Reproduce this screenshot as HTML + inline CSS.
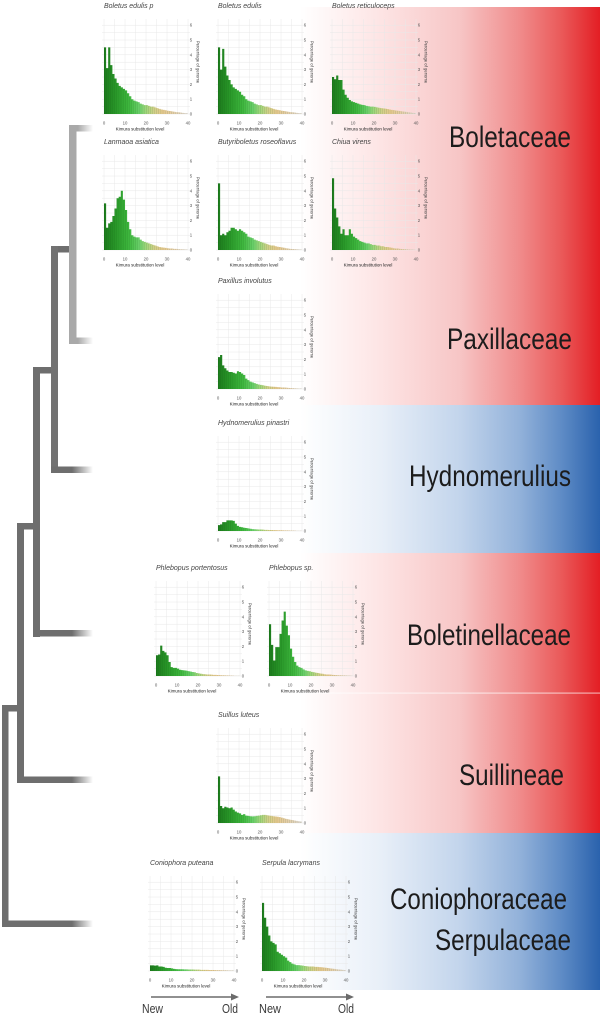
<!DOCTYPE html>
<html>
<head>
<meta charset="utf-8">
<style>
html,body{margin:0;padding:0;background:#fff;overflow:hidden;}
svg{display:block;}
.t{font-family:"Liberation Sans",sans-serif;font-style:italic;font-size:7px;fill:#444;}
.xt{font-family:"Liberation Sans",sans-serif;font-size:4.3px;fill:#555;text-anchor:middle;}
.yt{font-family:"Liberation Sans",sans-serif;font-size:4.3px;fill:#555;text-anchor:middle;}
.xl{font-family:"Liberation Sans",sans-serif;font-size:4.5px;fill:#222;text-anchor:middle;}
.yl{font-family:"Liberation Sans",sans-serif;font-size:4.2px;fill:#444;text-anchor:middle;}
.big{font-family:"Liberation Sans",sans-serif;font-size:30px;fill:#1c1c1c;}
.ar{font-family:"Liberation Sans",sans-serif;font-size:12.5px;fill:#3a3a3a;}
</style>
</head>
<body>
<svg width="600" height="1019" viewBox="0 0 600 1019" xmlns="http://www.w3.org/2000/svg">
<defs>
<linearGradient id="red" gradientUnits="userSpaceOnUse" x1="300" y1="0" x2="600" y2="0">
<stop offset="0" stop-color="#ffffff"/>
<stop offset="0.27" stop-color="#fde4e4"/>
<stop offset="0.53" stop-color="#f7c6c6"/>
<stop offset="0.73" stop-color="#f08c8c"/>
<stop offset="0.87" stop-color="#ea5a5a"/>
<stop offset="1" stop-color="#e31e24"/>
</linearGradient>
<linearGradient id="blue" gradientUnits="userSpaceOnUse" x1="300" y1="0" x2="600" y2="0">
<stop offset="0" stop-color="#ffffff"/>
<stop offset="0.27" stop-color="#e8eff8"/>
<stop offset="0.53" stop-color="#c3d5ec"/>
<stop offset="0.73" stop-color="#93b2da"/>
<stop offset="0.87" stop-color="#5f8cc6"/>
<stop offset="1" stop-color="#2a62ad"/>
</linearGradient>
<linearGradient id="tipD" gradientUnits="userSpaceOnUse" x1="72" y1="0" x2="93" y2="0">
<stop offset="0" stop-color="#6e6e6e"/>
<stop offset="1" stop-color="#6e6e6e" stop-opacity="0"/>
</linearGradient>
<linearGradient id="tipL" gradientUnits="userSpaceOnUse" x1="78" y1="0" x2="93" y2="0">
<stop offset="0" stop-color="#a9a9a9"/>
<stop offset="1" stop-color="#a9a9a9" stop-opacity="0"/>
</linearGradient>
<linearGradient id="bar" gradientUnits="userSpaceOnUse" x1="0" y1="0" x2="40" y2="0">
<stop offset="0" stop-color="#1c7a1c"/>
<stop offset="0.15" stop-color="#2a9a2a"/>
<stop offset="0.3" stop-color="#3fb83f"/>
<stop offset="0.42" stop-color="#6ad06a"/>
<stop offset="0.5" stop-color="#a0d67c"/>
<stop offset="0.6" stop-color="#d4d08a"/>
<stop offset="0.7" stop-color="#e6c88e"/>
<stop offset="0.85" stop-color="#e5cfae"/>
<stop offset="1" stop-color="#dcd6d0"/>
</linearGradient>
<pattern id="sep" patternUnits="userSpaceOnUse" width="1" height="8">
<rect x="0" y="0" width="0.16" height="8" fill="#0d4d0d" fill-opacity="0.3"/>
</pattern>
<g id="grid" fill="none" stroke="#e8e8e8" stroke-width="0.5">
<path d="M0 -95V0M10.5 -95V0M21 -95V0M31.5 -95V0M42 -95V0M52.5 -95V0M63 -95V0M73.5 -95V0M84 -95V0"/>
<path d="M-2 0H86M-2 -7.4H86M-2 -14.8H86M-2 -22.2H86M-2 -29.6H86M-2 -37H86M-2 -44.4H86M-2 -51.8H86M-2 -59.2H86M-2 -66.6H86M-2 -74H86M-2 -81.4H86M-2 -88.8H86"/>
</g>
</defs>

<!-- colored bands -->
<rect x="100" y="7" width="500" height="398" fill="url(#red)"/>
<rect x="100" y="405" width="500" height="148" fill="url(#blue)"/>
<rect x="100" y="553" width="500" height="280" fill="url(#red)"/>
<rect x="100" y="833" width="500" height="157" fill="url(#blue)"/>
<rect x="300" y="692.5" width="300" height="1.2" fill="#ffffff" fill-opacity="0.6"/>

<!-- tree -->
<rect x="69" y="125" width="7.5" height="219" fill="#a9a9a9"/>
<rect x="69" y="125" width="25" height="6.5" fill="url(#tipL)"/>
<rect x="69" y="337.5" width="25" height="6.5" fill="url(#tipL)"/>
<rect x="51" y="246" width="18" height="6.5" fill="#6e6e6e"/>
<rect x="51" y="246" width="7" height="227" fill="#727272"/>
<rect x="51" y="466.5" width="43" height="6.5" fill="url(#tipD)"/>
<rect x="33" y="367" width="18" height="6.5" fill="#6e6e6e"/>
<rect x="33" y="367" width="7" height="270" fill="#6e6e6e"/>
<rect x="33" y="630" width="61" height="6.5" fill="url(#tipD)"/>
<rect x="17" y="523" width="16" height="6.5" fill="#6e6e6e"/>
<rect x="17" y="523" width="7" height="260" fill="#6e6e6e"/>
<rect x="17" y="776.5" width="77" height="6.5" fill="url(#tipD)"/>
<rect x="2" y="705" width="15" height="6.5" fill="#6e6e6e"/>
<rect x="2" y="705" width="6.5" height="222" fill="#6e6e6e"/>
<rect x="2" y="920.5" width="92" height="6.5" fill="url(#tipD)"/>

<!-- big labels -->
<text class="big" x="449" y="147" textLength="122" lengthAdjust="spacingAndGlyphs">Boletaceae</text>
<text class="big" x="447" y="349" textLength="125" lengthAdjust="spacingAndGlyphs">Paxillaceae</text>
<text class="big" x="409" y="486" textLength="162" lengthAdjust="spacingAndGlyphs">Hydnomerulius</text>
<text class="big" x="407" y="645" textLength="164" lengthAdjust="spacingAndGlyphs">Boletinellaceae</text>
<text class="big" x="459" y="785" textLength="105" lengthAdjust="spacingAndGlyphs">Suillineae</text>
<text class="big" x="390" y="909" textLength="177" lengthAdjust="spacingAndGlyphs">Coniophoraceae</text>
<text class="big" x="435" y="950" textLength="136" lengthAdjust="spacingAndGlyphs">Serpulaceae</text>

<!-- Chart 1 -->
<g transform="translate(104,114)">
<use href="#grid"/>
<g transform="scale(2.1,-14.8)">
<path fill="url(#bar)" d="M0 0V4.5H1V3.1H2V4.5H3V3.3H4V2.7H5V2.4H6V2.1H7V1.9H8V1.8H9V1.7H10V1.6H11V1.4H12V1.2H13V1H14V.9H15V.85H16V.8H17V.7H18V.65H19V.6H20V.6H21V.55H22V.5H23V.5H24V.45H25V.4H26V.35H27V.3H28V.28H29V.25H30V.22H31V.2H32V.18H33V.15H34V.13H35V.12H36V.1H37V.08H38V.06H39V.05H40V0Z"/>
<path fill="url(#sep)" d="M0 0V4.5H1V3.1H2V4.5H3V3.3H4V2.7H5V2.4H6V2.1H7V1.9H8V1.8H9V1.7H10V1.6H11V1.4H12V1.2H13V1H14V.9H15V.85H16V.8H17V.7H18V.65H19V.6H20V.6H21V.55H22V.5H23V.5H24V.45H25V.4H26V.35H27V.3H28V.28H29V.25H30V.22H31V.2H32V.18H33V.15H34V.13H35V.12H36V.1H37V.08H38V.06H39V.05H40V0Z"/>
</g>
<text class="t" x="0" y="-106">Boletus edulis p</text>
<text class="xt" y="10.5"><tspan x="0">0</tspan><tspan x="21">10</tspan><tspan x="42">20</tspan><tspan x="63">30</tspan><tspan x="84">40</tspan></text>
<text class="yt"><tspan x="87" y="1.5">0</tspan><tspan x="87" y="-13.3">1</tspan><tspan x="87" y="-28.1">2</tspan><tspan x="87" y="-42.9">3</tspan><tspan x="87" y="-57.7">4</tspan><tspan x="87" y="-72.5">5</tspan><tspan x="87" y="-87.3">6</tspan></text>
<text class="xl" x="36" y="16.5">Kimura substitution level</text>
<text class="yl" transform="translate(92.5,-52) rotate(90)">Percentage of genome</text>
</g>

<!-- Chart 2 -->
<g transform="translate(218,114)">
<use href="#grid"/>
<g transform="scale(2.1,-14.8)">
<path fill="url(#bar)" d="M0 0V4.5H1V3H2V4.4H3V3.2H4V2.6H5V2.3H6V2H7V1.8H8V1.7H9V1.6H10V1.5H11V1.3H12V1.2H13V1H14V.9H15V.85H16V.8H17V.7H18V.65H19V.6H20V.6H21V.55H22V.5H23V.5H24V.45H25V.4H26V.35H27V.3H28V.28H29V.25H30V.22H31V.2H32V.18H33V.15H34V.13H35V.12H36V.1H37V.08H38V.06H39V.05H40V0Z"/>
<path fill="url(#sep)" d="M0 0V4.5H1V3H2V4.4H3V3.2H4V2.6H5V2.3H6V2H7V1.8H8V1.7H9V1.6H10V1.5H11V1.3H12V1.2H13V1H14V.9H15V.85H16V.8H17V.7H18V.65H19V.6H20V.6H21V.55H22V.5H23V.5H24V.45H25V.4H26V.35H27V.3H28V.28H29V.25H30V.22H31V.2H32V.18H33V.15H34V.13H35V.12H36V.1H37V.08H38V.06H39V.05H40V0Z"/>
</g>
<text class="t" x="0" y="-106">Boletus edulis</text>
<text class="xt" y="10.5"><tspan x="0">0</tspan><tspan x="21">10</tspan><tspan x="42">20</tspan><tspan x="63">30</tspan><tspan x="84">40</tspan></text>
<text class="yt"><tspan x="87" y="1.5">0</tspan><tspan x="87" y="-13.3">1</tspan><tspan x="87" y="-28.1">2</tspan><tspan x="87" y="-42.9">3</tspan><tspan x="87" y="-57.7">4</tspan><tspan x="87" y="-72.5">5</tspan><tspan x="87" y="-87.3">6</tspan></text>
<text class="xl" x="36" y="16.5">Kimura substitution level</text>
<text class="yl" transform="translate(92.5,-52) rotate(90)">Percentage of genome</text>
</g>

<!-- Chart 3 -->
<g transform="translate(332,114)">
<use href="#grid"/>
<g transform="scale(2.1,-14.8)">
<path fill="url(#bar)" d="M0 0V2.5H1V2.35H2V2.6H3V2.3H4V2.3H5V1.65H6V1.3H7V1.1H8V.95H9V.85H10V.8H11V.75H12V.7H13V.65H14V.62H15V.6H16V.55H17V.52H18V.5H19V.5H20V.48H21V.45H22V.42H23V.4H24V.38H25V.36H26V.34H27V.3H28V.28H29V.26H30V.24H31V.22H32V.2H33V.18H34V.16H35V.14H36V.12H37V.1H38V.08H39V.06H40V0Z"/>
<path fill="url(#sep)" d="M0 0V2.5H1V2.35H2V2.6H3V2.3H4V2.3H5V1.65H6V1.3H7V1.1H8V.95H9V.85H10V.8H11V.75H12V.7H13V.65H14V.62H15V.6H16V.55H17V.52H18V.5H19V.5H20V.48H21V.45H22V.42H23V.4H24V.38H25V.36H26V.34H27V.3H28V.28H29V.26H30V.24H31V.22H32V.2H33V.18H34V.16H35V.14H36V.12H37V.1H38V.08H39V.06H40V0Z"/>
</g>
<text class="t" x="0" y="-106">Boletus reticuloceps</text>
<text class="xt" y="10.5"><tspan x="0">0</tspan><tspan x="21">10</tspan><tspan x="42">20</tspan><tspan x="63">30</tspan><tspan x="84">40</tspan></text>
<text class="yt"><tspan x="87" y="1.5">0</tspan><tspan x="87" y="-13.3">1</tspan><tspan x="87" y="-28.1">2</tspan><tspan x="87" y="-42.9">3</tspan><tspan x="87" y="-57.7">4</tspan><tspan x="87" y="-72.5">5</tspan><tspan x="87" y="-87.3">6</tspan></text>
<text class="xl" x="36" y="16.5">Kimura substitution level</text>
<text class="yl" transform="translate(92.5,-52) rotate(90)">Percentage of genome</text>
</g>

<!-- Chart 4 -->
<g transform="translate(104,250)">
<use href="#grid"/>
<g transform="scale(2.1,-14.8)">
<path fill="url(#bar)" d="M0 0V3.15H1V1.5H2V1.8H3V1.9H4V2.3H5V2.8H6V3.5H7V3.6H8V4H9V3.4H10V2.7H11V1.9H12V1.4H13V1H14V.9H15V.85H16V.85H17V.7H18V.6H19V.55H20V.5H21V.45H22V.4H23V.35H24V.3H25V.25H26V.2H27V.18H28V.16H29V.14H30V.12H31V.1H32V.1H33V.08H34V.08H35V.06H36V.05H37V.05H38V.04H39V.03H40V0Z"/>
<path fill="url(#sep)" d="M0 0V3.15H1V1.5H2V1.8H3V1.9H4V2.3H5V2.8H6V3.5H7V3.6H8V4H9V3.4H10V2.7H11V1.9H12V1.4H13V1H14V.9H15V.85H16V.85H17V.7H18V.6H19V.55H20V.5H21V.45H22V.4H23V.35H24V.3H25V.25H26V.2H27V.18H28V.16H29V.14H30V.12H31V.1H32V.1H33V.08H34V.08H35V.06H36V.05H37V.05H38V.04H39V.03H40V0Z"/>
</g>
<text class="t" x="0" y="-106">Lanmaoa asiatica</text>
<text class="xt" y="10.5"><tspan x="0">0</tspan><tspan x="21">10</tspan><tspan x="42">20</tspan><tspan x="63">30</tspan><tspan x="84">40</tspan></text>
<text class="yt"><tspan x="87" y="1.5">0</tspan><tspan x="87" y="-13.3">1</tspan><tspan x="87" y="-28.1">2</tspan><tspan x="87" y="-42.9">3</tspan><tspan x="87" y="-57.7">4</tspan><tspan x="87" y="-72.5">5</tspan><tspan x="87" y="-87.3">6</tspan></text>
<text class="xl" x="36" y="16.5">Kimura substitution level</text>
<text class="yl" transform="translate(92.5,-52) rotate(90)">Percentage of genome</text>
</g>

<!-- Chart 5 -->
<g transform="translate(218,250)">
<use href="#grid"/>
<g transform="scale(2.1,-14.8)">
<path fill="url(#bar)" d="M0 0V4.5H1V1H2V1.1H3V1H4V1.2H5V1.3H6V1.5H7V1.5H8V1.4H9V1.3H10V1.4H11V1.3H12V1.2H13V1.1H14V.9H15V.85H16V.8H17V.7H18V.65H19V.6H20V.55H21V.5H22V.45H23V.4H24V.35H25V.3H26V.3H27V.25H28V.22H29V.2H30V.18H31V.15H32V.12H33V.1H34V.08H35V.07H36V.06H37V.05H38V.04H39V.03H40V0Z"/>
<path fill="url(#sep)" d="M0 0V4.5H1V1H2V1.1H3V1H4V1.2H5V1.3H6V1.5H7V1.5H8V1.4H9V1.3H10V1.4H11V1.3H12V1.2H13V1.1H14V.9H15V.85H16V.8H17V.7H18V.65H19V.6H20V.55H21V.5H22V.45H23V.4H24V.35H25V.3H26V.3H27V.25H28V.22H29V.2H30V.18H31V.15H32V.12H33V.1H34V.08H35V.07H36V.06H37V.05H38V.04H39V.03H40V0Z"/>
</g>
<text class="t" x="0" y="-106">Butyriboletus roseoflavus</text>
<text class="xt" y="10.5"><tspan x="0">0</tspan><tspan x="21">10</tspan><tspan x="42">20</tspan><tspan x="63">30</tspan><tspan x="84">40</tspan></text>
<text class="yt"><tspan x="87" y="1.5">0</tspan><tspan x="87" y="-13.3">1</tspan><tspan x="87" y="-28.1">2</tspan><tspan x="87" y="-42.9">3</tspan><tspan x="87" y="-57.7">4</tspan><tspan x="87" y="-72.5">5</tspan><tspan x="87" y="-87.3">6</tspan></text>
<text class="xl" x="36" y="16.5">Kimura substitution level</text>
<text class="yl" transform="translate(92.5,-52) rotate(90)">Percentage of genome</text>
</g>

<!-- Chart 6 -->
<g transform="translate(332,250)">
<use href="#grid"/>
<g transform="scale(2.1,-14.8)">
<path fill="url(#bar)" d="M0 0V4.85H1V2.8H2V2.2H3V1.6H4V1.1H5V1.4H6V1H7V1H8V1.4H9V1.1H10V.9H11V.8H12V.7H13V.6H14V.55H15V.5H16V.45H17V.45H18V.4H19V.35H20V.35H21V.3H22V.3H23V.25H24V.25H25V.2H26V.2H27V.18H28V.15H29V.12H30V.1H31V.1H32V.08H33V.07H34V.06H35V.05H36V.04H37V.03H38V.03H39V.02H40V0Z"/>
<path fill="url(#sep)" d="M0 0V4.85H1V2.8H2V2.2H3V1.6H4V1.1H5V1.4H6V1H7V1H8V1.4H9V1.1H10V.9H11V.8H12V.7H13V.6H14V.55H15V.5H16V.45H17V.45H18V.4H19V.35H20V.35H21V.3H22V.3H23V.25H24V.25H25V.2H26V.2H27V.18H28V.15H29V.12H30V.1H31V.1H32V.08H33V.07H34V.06H35V.05H36V.04H37V.03H38V.03H39V.02H40V0Z"/>
</g>
<text class="t" x="0" y="-106">Chiua virens</text>
<text class="xt" y="10.5"><tspan x="0">0</tspan><tspan x="21">10</tspan><tspan x="42">20</tspan><tspan x="63">30</tspan><tspan x="84">40</tspan></text>
<text class="yt"><tspan x="87" y="1.5">0</tspan><tspan x="87" y="-13.3">1</tspan><tspan x="87" y="-28.1">2</tspan><tspan x="87" y="-42.9">3</tspan><tspan x="87" y="-57.7">4</tspan><tspan x="87" y="-72.5">5</tspan><tspan x="87" y="-87.3">6</tspan></text>
<text class="xl" x="36" y="16.5">Kimura substitution level</text>
<text class="yl" transform="translate(92.5,-52) rotate(90)">Percentage of genome</text>
</g>

<!-- Chart 7 -->
<g transform="translate(218,389)">
<use href="#grid"/>
<g transform="scale(2.1,-14.8)">
<path fill="url(#bar)" d="M0 0V2.15H1V2.3H2V1.6H3V1.4H4V1.25H5V1.15H6V1.15H7V1.1H8V1.05H9V1.2H10V1.15H11V1.05H12V.95H13V.7H14V.6H15V.5H16V.45H17V.4H18V.35H19V.3H20V.28H21V.25H22V.22H23V.2H24V.18H25V.16H26V.15H27V.14H28V.13H29V.12H30V.1H31V.1H32V.09H33V.08H34V.07H35V.06H36V.05H37V.04H38V.03H39V.03H40V0Z"/>
<path fill="url(#sep)" d="M0 0V2.15H1V2.3H2V1.6H3V1.4H4V1.25H5V1.15H6V1.15H7V1.1H8V1.05H9V1.2H10V1.15H11V1.05H12V.95H13V.7H14V.6H15V.5H16V.45H17V.4H18V.35H19V.3H20V.28H21V.25H22V.22H23V.2H24V.18H25V.16H26V.15H27V.14H28V.13H29V.12H30V.1H31V.1H32V.09H33V.08H34V.07H35V.06H36V.05H37V.04H38V.03H39V.03H40V0Z"/>
</g>
<text class="t" x="0" y="-106">Paxillus involutus</text>
<text class="xt" y="10.5"><tspan x="0">0</tspan><tspan x="21">10</tspan><tspan x="42">20</tspan><tspan x="63">30</tspan><tspan x="84">40</tspan></text>
<text class="yt"><tspan x="87" y="1.5">0</tspan><tspan x="87" y="-13.3">1</tspan><tspan x="87" y="-28.1">2</tspan><tspan x="87" y="-42.9">3</tspan><tspan x="87" y="-57.7">4</tspan><tspan x="87" y="-72.5">5</tspan><tspan x="87" y="-87.3">6</tspan></text>
<text class="xl" x="36" y="16.5">Kimura substitution level</text>
<text class="yl" transform="translate(92.5,-52) rotate(90)">Percentage of genome</text>
</g>

<!-- Chart 8 -->
<g transform="translate(218,531)">
<use href="#grid"/>
<g transform="scale(2.1,-14.8)">
<path fill="url(#bar)" d="M0 0V.4H1V.45H2V.6H3V.6H4V.72H5V.72H6V.72H7V.68H8V.5H9V.35H10V.28H11V.25H12V.22H13V.2H14V.18H15V.15H16V.13H17V.12H18V.11H19V.1H20V.1H21V.09H22V.08H23V.08H24V.07H25V.07H26V.06H27V.06H28V.05H29V.05H30V.05H31V.04H32V.04H33V.04H34V.03H35V.03H36V.03H37V.02H38V.02H39V.02H40V0Z"/>
<path fill="url(#sep)" d="M0 0V.4H1V.45H2V.6H3V.6H4V.72H5V.72H6V.72H7V.68H8V.5H9V.35H10V.28H11V.25H12V.22H13V.2H14V.18H15V.15H16V.13H17V.12H18V.11H19V.1H20V.1H21V.09H22V.08H23V.08H24V.07H25V.07H26V.06H27V.06H28V.05H29V.05H30V.05H31V.04H32V.04H33V.04H34V.03H35V.03H36V.03H37V.02H38V.02H39V.02H40V0Z"/>
</g>
<text class="t" x="0" y="-106">Hydnomerulius pinastri</text>
<text class="xt" y="10.5"><tspan x="0">0</tspan><tspan x="21">10</tspan><tspan x="42">20</tspan><tspan x="63">30</tspan><tspan x="84">40</tspan></text>
<text class="yt"><tspan x="87" y="1.5">0</tspan><tspan x="87" y="-13.3">1</tspan><tspan x="87" y="-28.1">2</tspan><tspan x="87" y="-42.9">3</tspan><tspan x="87" y="-57.7">4</tspan><tspan x="87" y="-72.5">5</tspan><tspan x="87" y="-87.3">6</tspan></text>
<text class="xl" x="36" y="16.5">Kimura substitution level</text>
<text class="yl" transform="translate(92.5,-52) rotate(90)">Percentage of genome</text>
</g>

<!-- Chart 9 -->
<g transform="translate(156,676)">
<use href="#grid"/>
<g transform="scale(2.1,-14.8)">
<path fill="url(#bar)" d="M0 0V1.4H1V1.45H2V2.05H3V1.7H4V1.6H5V1.4H6V.95H7V.6H8V.55H9V.55H10V.5H11V.42H12V.4H13V.38H14V.36H15V.33H16V.3H17V.27H18V.25H19V.2H20V.18H21V.15H22V.13H23V.12H24V.1H25V.1H26V.09H27V.08H28V.08H29V.07H30V.06H31V.05H32V.05H33V.04H34V.04H35V.03H36V.03H37V.02H38V.02H39V.02H40V0Z"/>
<path fill="url(#sep)" d="M0 0V1.4H1V1.45H2V2.05H3V1.7H4V1.6H5V1.4H6V.95H7V.6H8V.55H9V.55H10V.5H11V.42H12V.4H13V.38H14V.36H15V.33H16V.3H17V.27H18V.25H19V.2H20V.18H21V.15H22V.13H23V.12H24V.1H25V.1H26V.09H27V.08H28V.08H29V.07H30V.06H31V.05H32V.05H33V.04H34V.04H35V.03H36V.03H37V.02H38V.02H39V.02H40V0Z"/>
</g>
<text class="t" x="0" y="-106">Phlebopus portentosus</text>
<text class="xt" y="10.5"><tspan x="0">0</tspan><tspan x="21">10</tspan><tspan x="42">20</tspan><tspan x="63">30</tspan><tspan x="84">40</tspan></text>
<text class="yt"><tspan x="87" y="1.5">0</tspan><tspan x="87" y="-13.3">1</tspan><tspan x="87" y="-28.1">2</tspan><tspan x="87" y="-42.9">3</tspan><tspan x="87" y="-57.7">4</tspan><tspan x="87" y="-72.5">5</tspan><tspan x="87" y="-87.3">6</tspan></text>
<text class="xl" x="36" y="16.5">Kimura substitution level</text>
<text class="yl" transform="translate(92.5,-52) rotate(90)">Percentage of genome</text>
</g>

<!-- Chart 10 -->
<g transform="translate(269,676)">
<use href="#grid"/>
<g transform="scale(2.1,-14.8)">
<path fill="url(#bar)" d="M0 0V3.5H1V2.1H2V1.05H3V1.95H4V1.95H5V2.85H6V3.75H7V4.35H8V3.4H9V2.75H10V1.85H11V1.3H12V.95H13V.7H14V.6H15V.55H16V.45H17V.38H18V.35H19V.32H20V.28H21V.25H22V.22H23V.2H24V.17H25V.15H26V.12H27V.1H28V.1H29V.09H30V.08H31V.07H32V.06H33V.05H34V.05H35V.04H36V.04H37V.03H38V.03H39V.02H40V0Z"/>
<path fill="url(#sep)" d="M0 0V3.5H1V2.1H2V1.05H3V1.95H4V1.95H5V2.85H6V3.75H7V4.35H8V3.4H9V2.75H10V1.85H11V1.3H12V.95H13V.7H14V.6H15V.55H16V.45H17V.38H18V.35H19V.32H20V.28H21V.25H22V.22H23V.2H24V.17H25V.15H26V.12H27V.1H28V.1H29V.09H30V.08H31V.07H32V.06H33V.05H34V.05H35V.04H36V.04H37V.03H38V.03H39V.02H40V0Z"/>
</g>
<text class="t" x="0" y="-106">Phlebopus sp.</text>
<text class="xt" y="10.5"><tspan x="0">0</tspan><tspan x="21">10</tspan><tspan x="42">20</tspan><tspan x="63">30</tspan><tspan x="84">40</tspan></text>
<text class="yt"><tspan x="87" y="1.5">0</tspan><tspan x="87" y="-13.3">1</tspan><tspan x="87" y="-28.1">2</tspan><tspan x="87" y="-42.9">3</tspan><tspan x="87" y="-57.7">4</tspan><tspan x="87" y="-72.5">5</tspan><tspan x="87" y="-87.3">6</tspan></text>
<text class="xl" x="36" y="16.5">Kimura substitution level</text>
<text class="yl" transform="translate(92.5,-52) rotate(90)">Percentage of genome</text>
</g>

<!-- Chart 11 -->
<g transform="translate(218,823)">
<use href="#grid"/>
<g transform="scale(2.1,-14.8)">
<path fill="url(#bar)" d="M0 0V3.15H1V1.15H2V1H3V1.1H4V1.05H5V1H6V1.05H7V.9H8V.78H9V.7H10V.65H11V.55H12V.6H13V.5H14V.48H15V.46H16V.45H17V.46H18V.48H19V.5H20V.52H21V.55H22V.55H23V.52H24V.5H25V.48H26V.46H27V.44H28V.42H29V.4H30V.36H31V.32H32V.28H33V.25H34V.22H35V.2H36V.17H37V.14H38V.12H39V.1H40V0Z"/>
<path fill="url(#sep)" d="M0 0V3.15H1V1.15H2V1H3V1.1H4V1.05H5V1H6V1.05H7V.9H8V.78H9V.7H10V.65H11V.55H12V.6H13V.5H14V.48H15V.46H16V.45H17V.46H18V.48H19V.5H20V.52H21V.55H22V.55H23V.52H24V.5H25V.48H26V.46H27V.44H28V.42H29V.4H30V.36H31V.32H32V.28H33V.25H34V.22H35V.2H36V.17H37V.14H38V.12H39V.1H40V0Z"/>
</g>
<text class="t" x="0" y="-106">Suillus luteus</text>
<text class="xt" y="10.5"><tspan x="0">0</tspan><tspan x="21">10</tspan><tspan x="42">20</tspan><tspan x="63">30</tspan><tspan x="84">40</tspan></text>
<text class="yt"><tspan x="87" y="1.5">0</tspan><tspan x="87" y="-13.3">1</tspan><tspan x="87" y="-28.1">2</tspan><tspan x="87" y="-42.9">3</tspan><tspan x="87" y="-57.7">4</tspan><tspan x="87" y="-72.5">5</tspan><tspan x="87" y="-87.3">6</tspan></text>
<text class="xl" x="36" y="16.5">Kimura substitution level</text>
<text class="yl" transform="translate(92.5,-52) rotate(90)">Percentage of genome</text>
</g>

<!-- Chart 12 -->
<g transform="translate(150,971)">
<use href="#grid"/>
<g transform="scale(2.1,-14.8)">
<path fill="url(#bar)" d="M0 0V.38H1V.38H2V.36H3V.38H4V.3H5V.3H6V.28H7V.22H8V.2H9V.2H10V.18H11V.14H12V.13H13V.12H14V.12H15V.12H16V.11H17V.11H18V.1H19V.1H20V.1H21V.09H22V.09H23V.09H24V.08H25V.08H26V.08H27V.08H28V.07H29V.07H30V.07H31V.06H32V.06H33V.06H34V.05H35V.05H36V.05H37V.04H38V.04H39V.04H40V0Z"/>
<path fill="url(#sep)" d="M0 0V.38H1V.38H2V.36H3V.38H4V.3H5V.3H6V.28H7V.22H8V.2H9V.2H10V.18H11V.14H12V.13H13V.12H14V.12H15V.12H16V.11H17V.11H18V.1H19V.1H20V.1H21V.09H22V.09H23V.09H24V.08H25V.08H26V.08H27V.08H28V.07H29V.07H30V.07H31V.06H32V.06H33V.06H34V.05H35V.05H36V.05H37V.04H38V.04H39V.04H40V0Z"/>
</g>
<text class="t" x="0" y="-106">Coniophora puteana</text>
<text class="xt" y="10.5"><tspan x="0">0</tspan><tspan x="21">10</tspan><tspan x="42">20</tspan><tspan x="63">30</tspan><tspan x="84">40</tspan></text>
<text class="yt"><tspan x="87" y="1.5">0</tspan><tspan x="87" y="-13.3">1</tspan><tspan x="87" y="-28.1">2</tspan><tspan x="87" y="-42.9">3</tspan><tspan x="87" y="-57.7">4</tspan><tspan x="87" y="-72.5">5</tspan><tspan x="87" y="-87.3">6</tspan></text>
<text class="xl" x="36" y="16.5">Kimura substitution level</text>
<text class="yl" transform="translate(92.5,-52) rotate(90)">Percentage of genome</text>
</g>

<!-- Chart 13 -->
<g transform="translate(262,971)">
<use href="#grid"/>
<g transform="scale(2.1,-14.8)">
<path fill="url(#bar)" d="M0 0V4.6H1V3.6H2V3H3V2.4H4V2H5V1.9H6V1.8H7V1.3H8V1.2H9V1.1H10V1H11V.9H12V.7H13V.6H14V.5H15V.45H16V.4H17V.4H18V.38H19V.36H20V.34H21V.32H22V.3H23V.3H24V.3H25V.28H26V.28H27V.26H28V.25H29V.24H30V.22H31V.2H32V.18H33V.16H34V.14H35V.12H36V.1H37V.09H38V.08H39V.06H40V0Z"/>
<path fill="url(#sep)" d="M0 0V4.6H1V3.6H2V3H3V2.4H4V2H5V1.9H6V1.8H7V1.3H8V1.2H9V1.1H10V1H11V.9H12V.7H13V.6H14V.5H15V.45H16V.4H17V.4H18V.38H19V.36H20V.34H21V.32H22V.3H23V.3H24V.3H25V.28H26V.28H27V.26H28V.25H29V.24H30V.22H31V.2H32V.18H33V.16H34V.14H35V.12H36V.1H37V.09H38V.08H39V.06H40V0Z"/>
</g>
<text class="t" x="0" y="-106">Serpula lacrymans</text>
<text class="xt" y="10.5"><tspan x="0">0</tspan><tspan x="21">10</tspan><tspan x="42">20</tspan><tspan x="63">30</tspan><tspan x="84">40</tspan></text>
<text class="yt"><tspan x="87" y="1.5">0</tspan><tspan x="87" y="-13.3">1</tspan><tspan x="87" y="-28.1">2</tspan><tspan x="87" y="-42.9">3</tspan><tspan x="87" y="-57.7">4</tspan><tspan x="87" y="-72.5">5</tspan><tspan x="87" y="-87.3">6</tspan></text>
<text class="xl" x="36" y="16.5">Kimura substitution level</text>
<text class="yl" transform="translate(92.5,-52) rotate(90)">Percentage of genome</text>
</g>

<!-- arrows -->
<line x1="151" y1="997" x2="232" y2="997" stroke="#6b6b6b" stroke-width="1.6"/>
<polygon points="231,993.5 239,997 231,1000.5" fill="#6b6b6b"/>
<text class="ar" x="142" y="1013" textLength="21" lengthAdjust="spacingAndGlyphs">New</text>
<text class="ar" x="222" y="1013" textLength="16" lengthAdjust="spacingAndGlyphs">Old</text>
<line x1="266" y1="997" x2="347" y2="997" stroke="#6b6b6b" stroke-width="1.6"/>
<polygon points="346,993.5 354,997 346,1000.5" fill="#6b6b6b"/>
<text class="ar" x="259" y="1013" textLength="22" lengthAdjust="spacingAndGlyphs">New</text>
<text class="ar" x="338" y="1013" textLength="16" lengthAdjust="spacingAndGlyphs">Old</text>
</svg>
</body>
</html>
